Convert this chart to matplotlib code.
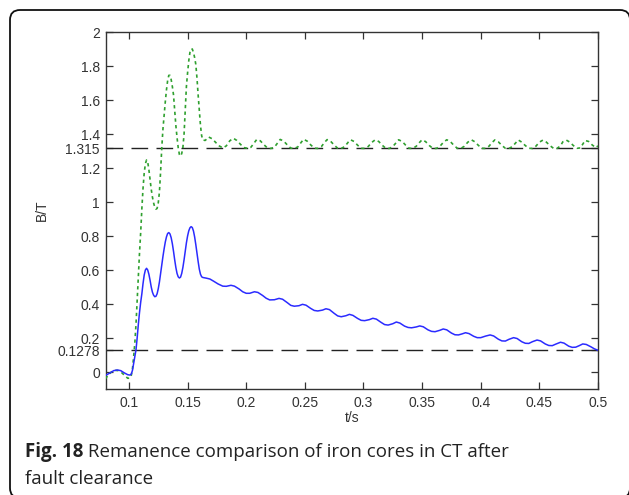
import matplotlib
matplotlib.use("Agg")
import matplotlib.pyplot as plt
from matplotlib.patches import FancyBboxPatch
from matplotlib.transforms import IdentityTransform

# ---- data -------------------------------------------------------------
# flux density of the core without remanence handling (solid blue)
t_blue = [
    0.080, 0.084, 0.087, 0.090, 0.093, 0.096, 0.099, 0.101, 0.102, 0.103,
    0.104, 0.105, 0.106, 0.107, 0.108, 0.109, 0.110, 0.111, 0.112, 0.113,
    0.114, 0.115, 0.116, 0.117, 0.118, 0.119, 0.120, 0.121, 0.122, 0.123,
    0.124, 0.125, 0.126, 0.127, 0.128, 0.129, 0.130, 0.131, 0.132, 0.133,
    0.134, 0.135, 0.136, 0.137, 0.138, 0.139, 0.140, 0.141, 0.142, 0.143,
    0.144, 0.145, 0.146, 0.147, 0.148, 0.149, 0.150, 0.151, 0.152, 0.153,
    0.154, 0.155, 0.156, 0.157, 0.158, 0.159, 0.160, 0.161, 0.162, 0.163,
    0.166, 0.169, 0.172, 0.176, 0.180, 0.183, 0.187, 0.190, 0.194, 0.197,
    0.200, 0.203, 0.207, 0.210, 0.214, 0.217, 0.220, 0.224, 0.228, 0.231,
    0.235, 0.238, 0.241, 0.245, 0.248, 0.251, 0.255, 0.258, 0.261, 0.265,
    0.268, 0.271, 0.275, 0.278, 0.281, 0.285, 0.288, 0.291, 0.295, 0.298,
    0.301, 0.305, 0.308, 0.311, 0.315, 0.318, 0.321, 0.325, 0.328, 0.331,
    0.335, 0.338, 0.341, 0.345, 0.348, 0.351, 0.355, 0.358, 0.361, 0.365,
    0.368, 0.371, 0.375, 0.378, 0.381, 0.384, 0.387, 0.390, 0.394, 0.397,
    0.400, 0.404, 0.408, 0.411, 0.415, 0.418, 0.421, 0.424, 0.428, 0.431,
    0.435, 0.438, 0.441, 0.444, 0.448, 0.451, 0.455, 0.458, 0.461, 0.464,
    0.468, 0.471, 0.475, 0.478, 0.481, 0.484, 0.487, 0.490, 0.494, 0.497,
    0.500,
]
b_blue = [
    -0.020, -0.005, 0.008, 0.012, 0.008, -0.005, -0.016, -0.018, -0.012, 0.010,
    0.050, 0.090, 0.130, 0.200, 0.280, 0.350, 0.410, 0.460, 0.520, 0.570,
    0.600, 0.610, 0.600, 0.575, 0.540, 0.500, 0.470, 0.452, 0.443, 0.445,
    0.460, 0.490, 0.530, 0.580, 0.630, 0.680, 0.725, 0.765, 0.795, 0.815,
    0.820, 0.812, 0.790, 0.755, 0.710, 0.660, 0.615, 0.580, 0.560, 0.553,
    0.558, 0.580, 0.615, 0.660, 0.710, 0.760, 0.800, 0.830, 0.848, 0.855,
    0.850, 0.830, 0.795, 0.750, 0.700, 0.650, 0.605, 0.575, 0.560, 0.556,
    0.552, 0.547, 0.535, 0.518, 0.505, 0.504, 0.510, 0.505, 0.488, 0.472,
    0.463, 0.463, 0.472, 0.468, 0.450, 0.434, 0.424, 0.425, 0.433, 0.428,
    0.408, 0.392, 0.387, 0.390, 0.398, 0.393, 0.374, 0.362, 0.359, 0.364,
    0.372, 0.367, 0.345, 0.330, 0.325, 0.331, 0.339, 0.333, 0.315, 0.304,
    0.302, 0.308, 0.316, 0.311, 0.292, 0.279, 0.276, 0.284, 0.294, 0.288,
    0.270, 0.262, 0.260, 0.265, 0.271, 0.266, 0.248, 0.239, 0.237, 0.245,
    0.253, 0.248, 0.229, 0.219, 0.218, 0.224, 0.231, 0.226, 0.210, 0.202,
    0.202, 0.211, 0.218, 0.212, 0.193, 0.183, 0.182, 0.192, 0.202, 0.197,
    0.178, 0.169, 0.168, 0.178, 0.188, 0.183, 0.165, 0.156, 0.155, 0.164,
    0.175, 0.170, 0.152, 0.145, 0.146, 0.155, 0.165, 0.162, 0.148, 0.136,
    0.128,
]

# flux density of the core with remanence (dotted green)
t_green = [
    0.080, 0.082, 0.085, 0.088, 0.091, 0.094, 0.097, 0.099, 0.101, 0.102,
    0.103, 0.104, 0.105, 0.106, 0.107, 0.108, 0.109, 0.110, 0.111, 0.112,
    0.113, 0.114, 0.115, 0.116, 0.117, 0.118, 0.119, 0.120, 0.121, 0.122,
    0.123, 0.124, 0.125, 0.126, 0.127, 0.128, 0.129, 0.130, 0.131, 0.132,
    0.133, 0.134, 0.135, 0.136, 0.137, 0.138, 0.139, 0.140, 0.141, 0.142,
    0.143, 0.144, 0.145, 0.146, 0.147, 0.148, 0.149, 0.150, 0.151, 0.152,
    0.153, 0.154, 0.155, 0.156, 0.157, 0.158, 0.159, 0.160, 0.161, 0.162,
    0.163, 0.165, 0.168, 0.171, 0.174, 0.177, 0.180, 0.183, 0.186, 0.189,
    0.192, 0.195, 0.198, 0.201, 0.204, 0.207, 0.209, 0.212, 0.215, 0.218,
    0.221, 0.224, 0.227, 0.229, 0.232, 0.235, 0.238, 0.241, 0.244, 0.247,
    0.249, 0.252, 0.255, 0.258, 0.261, 0.264, 0.267, 0.269, 0.272, 0.275,
    0.278, 0.281, 0.284, 0.287, 0.289, 0.292, 0.295, 0.298, 0.301, 0.304,
    0.307, 0.310, 0.313, 0.316, 0.319, 0.322, 0.325, 0.328, 0.330, 0.333,
    0.336, 0.339, 0.342, 0.345, 0.348, 0.350, 0.353, 0.356, 0.359, 0.362,
    0.365, 0.368, 0.371, 0.374, 0.377, 0.380, 0.383, 0.386, 0.389, 0.392,
    0.395, 0.398, 0.401, 0.404, 0.407, 0.410, 0.412, 0.415, 0.418, 0.421,
    0.424, 0.427, 0.430, 0.432, 0.435, 0.438, 0.441, 0.444, 0.447, 0.450,
    0.453, 0.456, 0.459, 0.462, 0.465, 0.468, 0.470, 0.473, 0.476, 0.479,
    0.482, 0.485, 0.487, 0.489, 0.492, 0.495, 0.498, 0.500,
]
b_green = [
    -0.040, -0.020, 0.000, 0.010, 0.008, -0.005, -0.025, -0.037, -0.035, -0.020,
    0.020, 0.090, 0.170, 0.280, 0.420, 0.570, 0.700, 0.820, 0.960, 1.080,
    1.170, 1.225, 1.247, 1.235, 1.190, 1.130, 1.075, 1.030, 0.995, 0.970,
    0.958, 0.962, 0.995, 1.060, 1.180, 1.320, 1.430, 1.510, 1.590, 1.660,
    1.715, 1.745, 1.745, 1.720, 1.680, 1.630, 1.540, 1.450, 1.380, 1.320,
    1.280, 1.270, 1.285, 1.320, 1.400, 1.540, 1.680, 1.760, 1.830, 1.880,
    1.900, 1.900, 1.880, 1.850, 1.810, 1.730, 1.630, 1.540, 1.450, 1.390,
    1.365, 1.362, 1.382, 1.372, 1.350, 1.330, 1.318, 1.330, 1.360, 1.375,
    1.362, 1.340, 1.320, 1.316, 1.322, 1.350, 1.368, 1.360, 1.338, 1.318,
    1.315, 1.322, 1.350, 1.368, 1.358, 1.336, 1.317, 1.315, 1.324, 1.352,
    1.369, 1.358, 1.336, 1.317, 1.315, 1.325, 1.352, 1.367, 1.357, 1.335,
    1.316, 1.315, 1.326, 1.352, 1.366, 1.356, 1.334, 1.316, 1.315, 1.326,
    1.350, 1.366, 1.356, 1.334, 1.316, 1.315, 1.326, 1.350, 1.366, 1.356,
    1.334, 1.316, 1.315, 1.328, 1.352, 1.366, 1.355, 1.333, 1.316, 1.315,
    1.326, 1.350, 1.366, 1.356, 1.334, 1.316, 1.315, 1.328, 1.352, 1.366,
    1.354, 1.333, 1.316, 1.315, 1.328, 1.352, 1.365, 1.354, 1.333, 1.316,
    1.315, 1.326, 1.350, 1.365, 1.352, 1.332, 1.316, 1.315, 1.328, 1.352,
    1.364, 1.352, 1.332, 1.316, 1.315, 1.330, 1.354, 1.364, 1.352, 1.332,
    1.316, 1.318, 1.340, 1.362, 1.356, 1.336, 1.320, 1.330,
]

# remanence levels marked by dashed reference lines
remanence_levels = [1.315, 0.1278]

x_ticks = [0.1, 0.15, 0.2, 0.25, 0.3, 0.35, 0.4, 0.45, 0.5]
x_tick_labels = ["0.1", "0.15", "0.2", "0.25", "0.3", "0.35", "0.4", "0.45", "0.5"]
y_ticks = [0, 0.1278, 0.2, 0.4, 0.6, 0.8, 1, 1.2, 1.315, 1.4, 1.6, 1.8, 2]
y_tick_labels = ["0", "0.1278", "0.2", "0.4", "0.6", "0.8", "1", "1.2",
                 "1.315", "1.4", "1.6", "1.8", "2"]

caption_bold = "Fig. 18"
caption_line1 = " Remanence comparison of iron cores in CT after"
caption_line2 = "fault clearance"

# ---- figure -----------------------------------------------------------
W, H, DPI = 629, 495, 100
fig = plt.figure(figsize=(W / DPI, H / DPI), dpi=DPI)
fig.patch.set_facecolor("white")

# rounded frame around the figure
frame = FancyBboxPatch((10, -3), 620, 488,
                       boxstyle="round,pad=0,rounding_size=10",
                       transform=IdentityTransform(),
                       facecolor="none", edgecolor="#111111", linewidth=1.3,
                       zorder=0)
fig.patches.append(frame)

ax = fig.add_axes([105.5 / W, 1 - 389 / H, 492.5 / W, 357 / H])

tick_font = dict(family="Liberation Sans", size=10, color="#333333")

for lvl in remanence_levels:
    ax.axhline(lvl, color="#222222", linewidth=1.0, dashes=(12, 6), zorder=2)

ax.plot(t_green, b_green, color="#2fa02f", linewidth=1.2, dashes=(2, 2), zorder=3)
ax.plot(t_blue, b_blue, color="#2b2bff", linewidth=1.1, zorder=4)

ax.set_xlim(0.08, 0.5)
ax.set_ylim(-0.1, 2)

ax.set_xticks(x_ticks)
ax.set_xticklabels(x_tick_labels, fontdict=tick_font)
ax.set_yticks(y_ticks)
ax.set_yticklabels(y_tick_labels, fontdict=tick_font)
ax.tick_params(direction="in", length=5, width=0.9, color="#333333",
               top=True, right=True)
ax.tick_params(axis="x", pad=5)
ax.tick_params(axis="y", pad=4)

for s in ax.spines.values():
    s.set_color("#333333")
    s.set_linewidth(1.0)

ax.set_xlabel("t/s", fontdict=tick_font, va="center")
ax.xaxis.set_label_coords(0.5, -29 / 357)
ax.set_ylabel("B/T", fontdict=tick_font, va="center")
ax.yaxis.set_label_coords((42 - 105.5) / 492.5, 0.5)

# caption: bold figure number followed by regular text
cap_size = 13.5
y1 = (H - 457) / H
y2 = (H - 484) / H
t_bold = fig.text(25 / W, y1, caption_bold, family="Open Sans", weight="bold",
                  size=cap_size, color="#222222", va="baseline")
renderer = fig.canvas.get_renderer()
bb = t_bold.get_window_extent(renderer)
fig.text(bb.x1 / W, y1, caption_line1, family="Open Sans", size=cap_size,
         color="#222222", va="baseline")
fig.text(25 / W, y2, caption_line2, family="Open Sans", size=cap_size,
         color="#222222", va="baseline")

fig.savefig("out.png", dpi=DPI)
